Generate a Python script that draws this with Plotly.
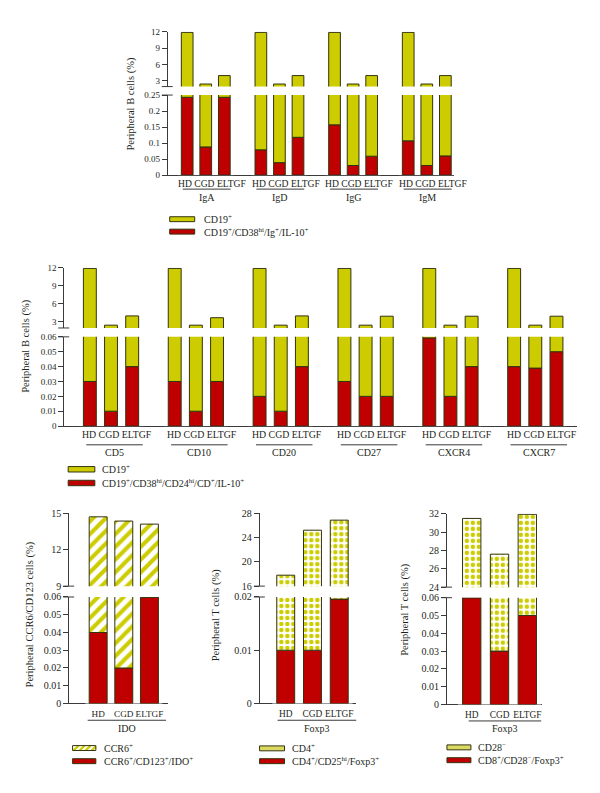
import plotly.graph_objects as go

W, H = 600, 793
FONT = "Liberation Serif"
TXT = "#231f20"
YEL = "#cccc00"
RED = "#c00000"
EDGE = "#33330f"
AXC = "#3a3a3a"

# ------------------------------------------------------------------ data
STATES = ["HD", "CGD", "ELTGF"]

IG_GROUPS = ["IgA", "IgD", "IgG", "IgM"]
IG_CD19 = [[11.9, 2.4, 3.95], [11.9, 2.4, 3.95], [11.9, 2.4, 3.95], [11.9, 2.4, 3.95]]
IG_IL10 = [[0.243, 0.088, 0.243], [0.079, 0.039, 0.118], [0.157, 0.030, 0.059], [0.107, 0.030, 0.060]]

CD_GROUPS = ["CD5", "CD10", "CD20", "CD27", "CXCR4", "CXCR7"]
CD_CD19 = [[11.9, 2.4, 3.95], [11.9, 2.4, 3.65], [11.9, 2.4, 3.95],
           [11.9, 2.4, 3.9], [11.9, 2.4, 3.9], [11.9, 2.4, 3.9]]
CD_IL10 = [[0.030, 0.010, 0.040], [0.030, 0.010, 0.030], [0.020, 0.010, 0.040],
           [0.030, 0.020, 0.020], [0.0593, 0.020, 0.040], [0.040, 0.039, 0.050]]

IDO_GROUPS = ["IDO"]
CCR6_TOTAL = [[14.7, 14.35, 14.1]]
CCR6_IDO = [[0.040, 0.020, 0.0598]]

FOXP3_GROUPS = ["Foxp3"]
CD4_TOTAL = [[17.8, 25.2, 26.85]]
CD4_TREG = [[0.010, 0.010, 0.0196]]

CD28_GROUPS = ["Foxp3"]
CD28_TOTAL = [[31.5, 27.6, 31.95]]
CD8_TREG = [[0.0599, 0.030, 0.050]]

# ------------------------------------------------------------------ panel geometry / style
PANELS = [
    dict(groups=IG_GROUPS, totals=IG_CD19, inner=IG_IL10,
         axis_x=167, base_end=455, g0=(178.2, 234.0), gstep=73.8,
         upper=(26.2, 81.7), urange=[1.93, 12], uticks=[3, 6, 9, 12],
         lower=(90.3, 171.5), lrange=[0, 0.25], lticks=[0, 0.05, 0.1, 0.15, 0.2, 0.25],
         width=0.63, pattern=None, ul=(0.086, 0.946), ul_y=185.7, gl_y=193.7,
         joined=dict(rel=0.61, y=180.0),
         ytitle="Peripheral B cells (%)", yt_x=131.7, yt_y=98.5,
         leg_x=(170, 195), leg_y=(216.2, 228.8), leg_h=5, leg_tx=202,
         leg_text=["CD19<sup>+</sup>", "CD19<sup>+</sup>/CD38<sup>hi</sup>/Ig<sup>+</sup>/IL-10<sup>+</sup>"],
         yfs=9, xfs=9.6),
    dict(groups=CD_GROUPS, totals=CD_CD19, inner=CD_IL10,
         axis_x=63.3, base_end=578, g0=(79.4, 143.0), gstep=85,
         upper=(265.5, 326.5), urange=[1.93, 12], uticks=[3, 6, 9, 12],
         lower=(335.5, 426), lrange=[0, 0.06], lticks=[0, 0.01, 0.02, 0.03, 0.04, 0.05, 0.06],
         width=0.61, pattern=None, ul=(0.11, 1.0), ul_y=445, gl_y=452.7,
         joined=dict(rel=0.60, y=434.3),
         ytitle="Peripheral B cells (%)", yt_x=26.7, yt_y=345,
         leg_x=(68.3, 95), leg_y=(469.8, 483.7), leg_h=5.5, leg_tx=100.5,
         leg_text=["CD19<sup>+</sup>", "CD19<sup>+</sup>/CD38<sup>hi</sup>/CD24<sup>hi</sup>/CD<sup>+</sup>/IL-10<sup>+</sup>"],
         yfs=9, xfs=9.8),
    dict(groups=IDO_GROUPS, totals=CCR6_TOTAL, inner=CCR6_IDO,
         axis_x=68.3, base_end=168, g0=(85.5, 162.5), gstep=0,
         upper=(514.3, 588.3), urange=[9, 15], uticks=[9, 12, 15],
         lower=(599.3, 707.3), lrange=[0, 0.06], lticks=[0, 0.01, 0.02, 0.03, 0.04, 0.05, 0.06],
         width=0.70, pattern="stripes", ul=(0.03, 1.05), ul_y=724.3, gl_y=732.7,
         joined=None,
         ytitle="Peripheral CCR6/CD123 cells (%)", yt_x=30, yt_y=617,
         leg_x=(72.7, 96), leg_y=(752.5, 765.8), leg_h=5, leg_tx=102,
         leg_text=["CCR6<sup>+</sup>", "CCR6<sup>+</sup>/CD123<sup>+</sup>/IDO<sup>+</sup>"],
         yfs=10, xfs=9.2),
    dict(groups=FOXP3_GROUPS, totals=CD4_TOTAL, inner=CD4_TREG,
         axis_x=259.3, base_end=356.7, g0=(272.8, 353.2), gstep=0,
         upper=(514.3, 588.3), urange=[16, 28], uticks=[16, 20, 24, 28],
         lower=(599.3, 707.3), lrange=[0, 0.02], lticks=[0, 0.01, 0.02],
         width=0.67, pattern="dots", ul=(0.065, 1.045), ul_y=724.3, gl_y=732.7,
         joined=None,
         ytitle="Peripheral T cells (%)", yt_x=216.7, yt_y=617.5,
         leg_x=(260, 285), leg_y=(752.8, 765.8), leg_h=5, leg_tx=290.5,
         leg_text=["CD4<sup>+</sup>", "CD4<sup>+</sup>/CD25<sup>hi</sup>/Foxp3<sup>+</sup>"],
         yfs=10, xfs=9.4),
    dict(groups=CD28_GROUPS, totals=CD28_TOTAL, inner=CD8_TREG,
         axis_x=446.7, base_end=543, g0=(458.6, 542.1), gstep=0,
         upper=(515, 589.3), urange=[24, 32], uticks=[24, 26, 28, 30, 32],
         lower=(600, 708.3), lrange=[0, 0.06], lticks=[0, 0.01, 0.02, 0.03, 0.04, 0.05, 0.06],
         width=0.66, pattern="dots", ul=(0.13, 1.0), ul_y=725, gl_y=732.7,
         joined=None,
         ytitle="Peripheral T cells (%)", yt_x=405, yt_y=612,
         leg_x=(447.7, 471.7), leg_y=(751.8, 764.8), leg_h=5, leg_tx=477,
         leg_text=["CD28<sup>\u2212</sup>", "CD8<sup>+</sup>/CD28<sup>\u2212</sup>/Foxp3<sup>+</sup>"],
         yfs=10, xfs=9.4),
]


def px_x(x):
    return x / W


def px_y(y):
    return 1 - y / H


fig = go.Figure()
layout = {}
shapes = []
annotations = []
counter = {"x": 0, "y": 0}


def new_axis(kind):
    counter[kind] += 1
    n = counter[kind]
    ref = kind if n == 1 else f"{kind}{n}"
    key = ("xaxis" if kind == "x" else "yaxis") + ("" if n == 1 else str(n))
    return ref, key


def outer_marker(pattern):
    line = dict(color=EDGE, width=1)
    if pattern == "stripes":
        return dict(color="white", line=line,
                    pattern=dict(shape="/", fgcolor=YEL, bgcolor="white", size=9,
                                 solidity=0.45, fillmode="replace"))
    if pattern == "dots":
        return dict(color="white", line=line,
                    pattern=dict(shape=".", fgcolor=YEL, bgcolor="white", size=6,
                                 solidity=0.45, fillmode="replace"))
    return dict(color=YEL, line=line)


def yaxis_style(fs, xpos):
    return dict(anchor="free", position=px_x(xpos),
                showline=True, linecolor=AXC, linewidth=1, ticks="outside", ticklen=5,
                tickwidth=1, tickcolor=AXC, showgrid=False, zeroline=False, fixedrange=True,
                tickfont=dict(family=FONT, size=fs, color=TXT))


for p in PANELS:
    xa, xa_key = new_axis("x")
    yl, yl_key = new_axis("y")
    yu, yu_key = new_axis("y")
    layout[xa_key] = dict(domain=[px_x(p["axis_x"]), px_x(p["base_end"])], anchor=yl,
                          range=[0, 1], showline=True, linecolor=AXC, linewidth=1,
                          showticklabels=False, ticks="", showgrid=False, zeroline=False,
                          fixedrange=True)
    layout[yl_key] = dict(domain=[px_y(p["lower"][1]), px_y(p["lower"][0])],
                          range=p["lrange"], tickvals=p["lticks"], **yaxis_style(p["yfs"], p["axis_x"]))
    layout[yu_key] = dict(domain=[px_y(p["upper"][1]), px_y(p["upper"][0])],
                          range=p["urange"], tickvals=p["uticks"], **yaxis_style(p["yfs"], p["axis_x"]))
    # empty traces so the baseline subplot exists
    for yy in (yl, yu):
        fig.add_trace(go.Scatter(x=[None], y=[None], xaxis=xa, yaxis=yy, mode="markers",
                                 showlegend=False, hoverinfo="skip"))

    # axis-break marks
    for yy in (p["upper"][1], p["lower"][0]):
        shapes.append(dict(type="line", xref="paper", yref="paper",
                           x0=px_x(p["axis_x"] - 5), x1=px_x(p["axis_x"] + 6),
                           y0=px_y(yy), y1=px_y(yy), line=dict(color=AXC, width=1)))

    om = outer_marker(p["pattern"])
    joined = p["joined"]
    for g, name in enumerate(p["groups"]):
        xg, xg_key = new_axis("x")
        d0 = p["g0"][0] + g * p["gstep"]
        d1 = p["g0"][1] + g * p["gstep"]
        layout[xg_key] = dict(domain=[px_x(d0), px_x(d1)], anchor=yl, type="category",
                              categoryorder="array", categoryarray=STATES, range=[-0.5, 2.5],
                              showline=False, ticks="", showgrid=False, zeroline=False,
                              tickangle=0, fixedrange=True, ticklabelstandoff=3,
                              showticklabels=joined is None,
                              tickfont=dict(family=FONT, size=p["xfs"], color=TXT))
        if joined is not None:
            # labels set as a single run of text, as in the original figure
            annotations.append(dict(text=" ".join(STATES), xref=f"{xg} domain", yref="paper",
                                    x=joined["rel"], y=px_y(joined["y"]), xanchor="center",
                                    yanchor="middle", showarrow=False,
                                    font=dict(family=FONT, size=p["xfs"], color=TXT)))
        tot = p["totals"][g]
        inn = p["inner"][g]
        fig.add_trace(go.Bar(x=STATES, y=inn, xaxis=xg, yaxis=yl, width=p["width"],
                             marker=dict(color=RED, line=dict(color=EDGE, width=1)),
                             showlegend=False, hoverinfo="skip"))
        fig.add_trace(go.Bar(x=STATES, y=[t - i for t, i in zip(tot, inn)], base=inn,
                             xaxis=xg, yaxis=yl, width=p["width"], marker=om,
                             showlegend=False, hoverinfo="skip"))
        fig.add_trace(go.Bar(x=STATES, y=tot, xaxis=xg, yaxis=yu, width=p["width"], marker=om,
                             showlegend=False, hoverinfo="skip"))
        # group underline and label
        shapes.append(dict(type="line", xref=f"{xg} domain", yref="paper",
                           x0=p["ul"][0], x1=p["ul"][1], y0=px_y(p["ul_y"]), y1=px_y(p["ul_y"]),
                           line=dict(color=AXC, width=1)))
        annotations.append(dict(text=name, xref=f"{xg} domain", yref="paper",
                                x=(p["ul"][0] + p["ul"][1]) / 2, y=px_y(p["gl_y"]),
                                xanchor="center", yanchor="middle", showarrow=False,
                                font=dict(family=FONT, size=10, color=TXT)))

    # y-axis title
    annotations.append(dict(text=p["ytitle"], xref="paper", yref="paper",
                            x=px_x(p["yt_x"]), y=px_y(p["yt_y"]), textangle=-90,
                            xanchor="center", yanchor="middle", showarrow=False,
                            font=dict(family=FONT, size=10.5, color=TXT)))

    # legend
    lx0, lx1 = p["leg_x"]
    hh = p["leg_h"] / 2
    for k, yc in enumerate(p["leg_y"]):
        t, b = yc - hh, yc + hh
        if k == 1:
            shapes.append(dict(type="rect", xref="paper", yref="paper", x0=px_x(lx0), x1=px_x(lx1),
                               y0=px_y(b), y1=px_y(t), fillcolor=RED, line=dict(color=EDGE, width=1)))
        elif p["pattern"] == "stripes":
            shapes.append(dict(type="rect", xref="paper", yref="paper", x0=px_x(lx0), x1=px_x(lx1),
                               y0=px_y(b), y1=px_y(t), fillcolor="white", line=dict(width=0)))
            h = b - t
            period = 6.0
            s = lx0 - h
            while s < lx1:
                u0 = max(0.0, (lx0 - s) / h)
                u1 = min(1.0, (lx1 - s) / h)
                if u1 > u0:
                    shapes.append(dict(type="line", xref="paper", yref="paper",
                                       x0=px_x(s + u0 * h), y0=px_y(b - u0 * h),
                                       x1=px_x(s + u1 * h), y1=px_y(b - u1 * h),
                                       line=dict(color=YEL, width=2.2)))
                s += period
            shapes.append(dict(type="rect", xref="paper", yref="paper", x0=px_x(lx0), x1=px_x(lx1),
                               y0=px_y(b), y1=px_y(t), line=dict(color=EDGE, width=1)))
        else:
            fill = "#dada62" if p["pattern"] == "dots" else YEL
            shapes.append(dict(type="rect", xref="paper", yref="paper", x0=px_x(lx0), x1=px_x(lx1),
                               y0=px_y(b), y1=px_y(t), fillcolor=fill, line=dict(color=EDGE, width=1)))
        annotations.append(dict(text=p["leg_text"][k], xref="paper", yref="paper",
                                x=px_x(p["leg_tx"]), y=px_y(yc), xanchor="left", yanchor="middle",
                                showarrow=False, font=dict(family=FONT, size=10, color=TXT)))

fig.update_layout(
    width=W, height=H, margin=dict(l=0, r=0, t=0, b=0),
    paper_bgcolor="white", plot_bgcolor="white",
    barmode="overlay", showlegend=False,
    font=dict(family=FONT, size=10, color=TXT),
    shapes=shapes, annotations=annotations,
    **layout,
)

fig.write_html("out.html", config={"displayModeBar": False},
               post_script="document.body.style.margin='0';document.body.style.overflow='hidden';")
